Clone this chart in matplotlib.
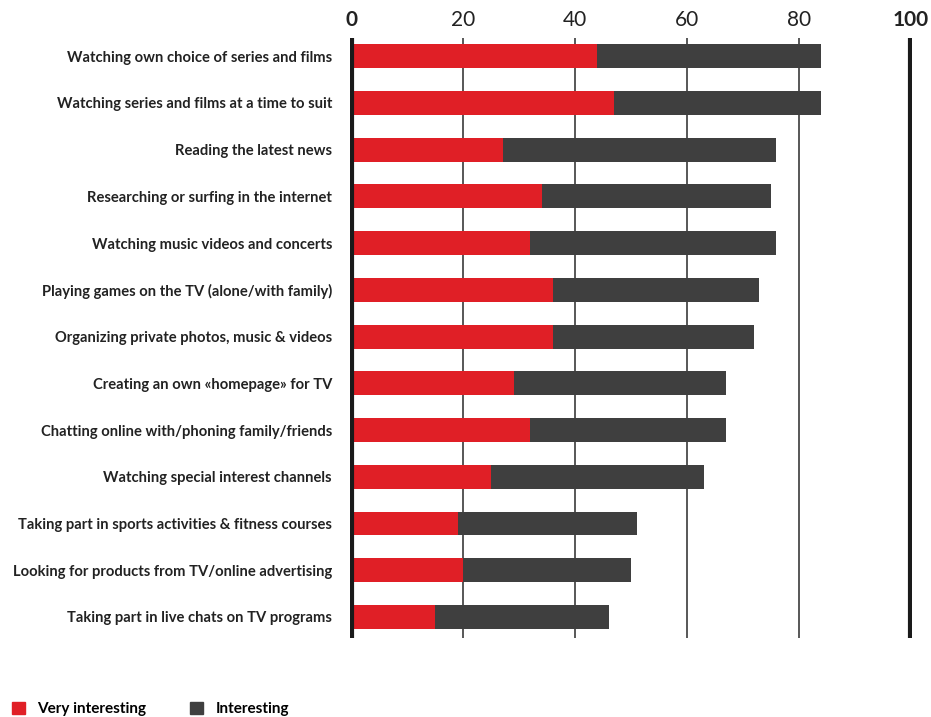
import matplotlib
matplotlib.use("Agg")
import matplotlib.pyplot as plt
from matplotlib.patches import Patch

categories = [
    "Watching own choice of series and films",
    "Watching series and films at a time to suit",
    "Reading the latest news",
    "Researching or surfing in the internet",
    "Watching music videos and concerts",
    "Playing games on the TV (alone/with family)",
    "Organizing private photos, music & videos",
    "Creating an own «homepage» for TV",
    "Chatting online with/phoning family/friends",
    "Watching special interest channels",
    "Taking part in sports activities & fitness courses",
    "Looking for products from TV/online advertising",
    "Taking part in live chats on TV programs",
]
very_interesting = [44, 47, 27, 34, 32, 36, 36, 29, 32, 25, 19, 20, 15]
interesting = [40, 37, 49, 41, 44, 37, 36, 38, 35, 38, 32, 30, 31]
ticks = [0, 20, 40, 60, 80, 100]

RED = "#E01F26"
DARK = "#3F3F3F"
FONT = ["Lato", "DejaVu Sans"]
plt.rcParams['font.family'] = FONT

fig = plt.figure(figsize=(9.31, 7.17), dpi=100)
ax = fig.add_axes([350/931, 1-638/717, (912-350)/931, 600/717])

y = list(range(len(categories)))
ax.barh(y, very_interesting, height=0.51, color=RED, zorder=2)
ax.barh(y, interesting, left=very_interesting, height=0.51, color=DARK, zorder=2)

for t in ticks:
    if t in (0, 100):
        ax.axvline(t, color="#1a1a1a", lw=3, zorder=3)
    else:
        ax.axvline(t, color="#4a4a4a", lw=1.3, zorder=1)

ax.set_xlim(-0.3, 100.3)
ax.set_ylim(len(categories) - 1 + 0.45, -0.39)
for s in ax.spines.values():
    s.set_visible(False)
ax.xaxis.tick_top()
ax.set_xticks(ticks)
ax.set_xticklabels([str(t) for t in ticks], fontsize=15, color="#222222")
for lbl in ax.get_xticklabels():
    if lbl.get_text() in ("0", "100"):
        lbl.set_fontweight("bold")
ax.tick_params(axis="x", length=0, pad=6)
ax.set_yticks(y)
ax.set_yticklabels(categories, fontsize=10.6, fontweight="bold", color="#222222")
ax.tick_params(axis="y", length=0, pad=13)

handles = [Patch(color=RED, label="Very interesting"), Patch(color=DARK, label="Interesting")]
fig.legend(handles=handles, loc="lower left", bbox_to_anchor=(-0.002, -0.018), ncol=2,
           frameon=False, prop={"size": 11, "weight": "bold", "family": FONT},
           handlelength=0.85, handleheight=0.85, columnspacing=2.9, handletextpad=0.8)

fig.savefig("out.png", dpi=100)
